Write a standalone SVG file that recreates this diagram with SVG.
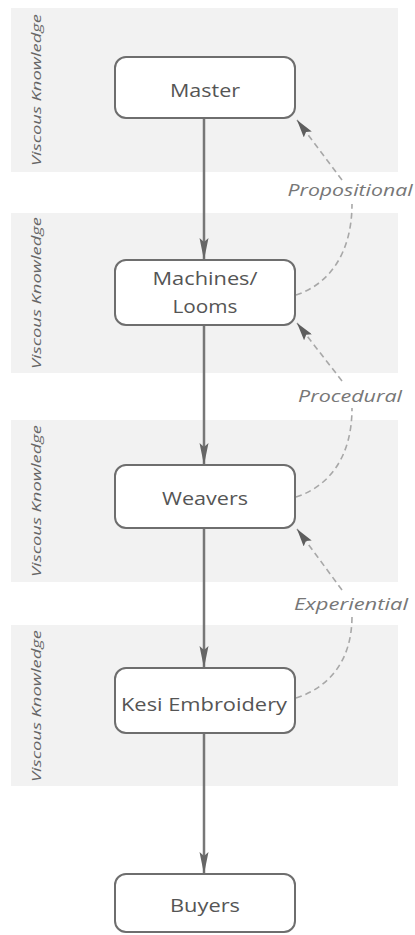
<svg xmlns="http://www.w3.org/2000/svg" width="415" height="935" viewBox="0 0 415 935">
  <defs>
    <style>
      .band { fill: #f2f2f2; }
      .band-label { font-family: "Open Sans", "Liberation Sans", sans-serif; font-style: italic; font-size: 13.5px; fill: #666666; }
      .node rect { fill: #ffffff; stroke: #6e6e6e; stroke-width: 2; }
      .node text { font-family: "Open Sans", "Liberation Sans", sans-serif; font-size: 19px; fill: #555555; text-anchor: middle; }
      .flow { stroke: #777777; stroke-width: 2.5; fill: none; }
      .feedback { stroke: #a8a8a8; stroke-width: 1.6; fill: none; stroke-dasharray: 6 4; }
      .kind { font-family: "Open Sans", "Liberation Sans", sans-serif; font-style: italic; font-size: 16px; fill: #777777; text-anchor: middle; }
    </style>
    <marker id="flowHead" viewBox="0 0 22 10" refX="22" refY="5" markerWidth="22" markerHeight="10" markerUnits="userSpaceOnUse" orient="auto">
      <path d="M0,0.5 L22,5 L0,9.5 L4,5 Z" fill="#666666"/>
    </marker>
    <marker id="fbHead" viewBox="0 0 18 10" refX="18" refY="5" markerWidth="18" markerHeight="10" markerUnits="userSpaceOnUse" orient="auto">
      <path d="M0,0 L18,5 L0,10 L3,5 Z" fill="#5e5e5e"/>
    </marker>
  </defs>

  <rect width="415" height="935" fill="#ffffff"/>

  <!-- knowledge bands -->
  <g id="bands">
    <rect class="band" x="11" y="8" width="387" height="164"/>
    <rect class="band" x="11" y="213" width="387" height="160"/>
    <rect class="band" x="11" y="420" width="387" height="162"/>
    <rect class="band" x="11" y="625" width="387" height="161"/>
    <text class="band-label" transform="translate(41,90) rotate(-90)" text-anchor="middle" textLength="152" lengthAdjust="spacingAndGlyphs">Viscous Knowledge</text>
    <text class="band-label" transform="translate(41,293) rotate(-90)" text-anchor="middle" textLength="152" lengthAdjust="spacingAndGlyphs">Viscous Knowledge</text>
    <text class="band-label" transform="translate(41,501) rotate(-90)" text-anchor="middle" textLength="152" lengthAdjust="spacingAndGlyphs">Viscous Knowledge</text>
    <text class="band-label" transform="translate(41,706) rotate(-90)" text-anchor="middle" textLength="152" lengthAdjust="spacingAndGlyphs">Viscous Knowledge</text>
  </g>

  <!-- connectors -->
  <g id="connectors">
    <line class="flow" x1="204" y1="118" x2="204" y2="260" marker-end="url(#flowHead)"/>
    <line class="flow" x1="204" y1="325" x2="204" y2="465" marker-end="url(#flowHead)"/>
    <line class="flow" x1="204" y1="528" x2="204" y2="668" marker-end="url(#flowHead)"/>
    <line class="flow" x1="204" y1="733" x2="204" y2="874" marker-end="url(#flowHead)"/>

    <path class="feedback" d="M296,295 C330,284 352,252 352,204"/>
    <path class="feedback" d="M342,180 L297,120" marker-end="url(#fbHead)"/>
    <text class="kind" x="350" y="196" textLength="125" lengthAdjust="spacingAndGlyphs">Propositional</text>

    <path class="feedback" d="M296,497 C330,486 352,456 352,408"/>
    <path class="feedback" d="M342,381 L297,323" marker-end="url(#fbHead)"/>
    <text class="kind" x="350" y="402" textLength="104" lengthAdjust="spacingAndGlyphs">Procedural</text>

    <path class="feedback" d="M296,698 C330,687 352,660 352,616"/>
    <path class="feedback" d="M342,590 L297,529" marker-end="url(#fbHead)"/>
    <text class="kind" x="351" y="610" textLength="114" lengthAdjust="spacingAndGlyphs">Experiential</text>
  </g>

  <!-- nodes -->
  <g id="master" class="node">
    <rect x="115" y="57" width="180" height="61" rx="11"/>
    <text x="205" y="97" textLength="70" lengthAdjust="spacingAndGlyphs">Master</text>
  </g>
  <g id="machines" class="node">
    <rect x="115" y="260" width="180" height="65" rx="11"/>
    <text x="205" y="285" textLength="105" lengthAdjust="spacingAndGlyphs">Machines/</text>
    <text x="205" y="313" textLength="65" lengthAdjust="spacingAndGlyphs">Looms</text>
  </g>
  <g id="weavers" class="node">
    <rect x="115" y="465" width="180" height="63" rx="11"/>
    <text x="205" y="505" textLength="86" lengthAdjust="spacingAndGlyphs">Weavers</text>
  </g>
  <g id="kesi" class="node">
    <rect x="115" y="668" width="180" height="65" rx="11"/>
    <text x="204" y="711" textLength="166" lengthAdjust="spacingAndGlyphs">Kesi Embroidery</text>
  </g>
  <g id="buyers" class="node">
    <rect x="115" y="874" width="180" height="58" rx="11"/>
    <text x="205" y="912" textLength="70" lengthAdjust="spacingAndGlyphs">Buyers</text>
  </g>
</svg>
